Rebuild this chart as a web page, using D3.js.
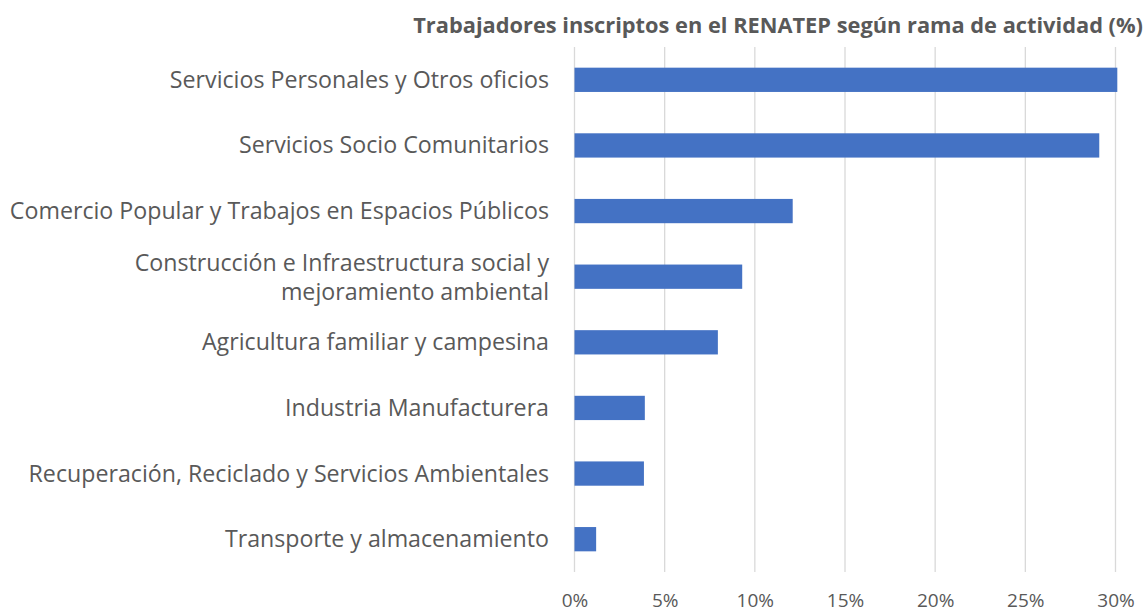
<!DOCTYPE html>
<html><head><meta charset="utf-8">
<script src="https://cdn.jsdelivr.net/npm/d3@7"></script>
<style>body{margin:0;background:#fff;} text{font-family:"Open Sans", sans-serif;}</style>
</head><body>
<svg id="c" width="1146" height="613"></svg>
<script>
const categories = [
  ["Servicios Personales y Otros oficios"],
  ["Servicios Socio Comunitarios"],
  ["Comercio Popular y Trabajos en Espacios Públicos"],
  ["Construcción e Infraestructura social y", "mejoramiento ambiental"],
  ["Agricultura familiar y campesina"],
  ["Industria Manufacturera"],
  ["Recuperación, Reciclado y Servicios Ambientales"],
  ["Transporte y almacenamiento"]
];
const values = [30.1, 29.1, 12.1, 9.3, 7.95, 3.9, 3.85, 1.2];
const ticks = [0, 5, 10, 15, 20, 25, 30];
const title = "Trabajadores inscriptos en el RENATEP según rama de actividad (%)";

const svg = d3.select("#c");
const x = d3.scaleLinear().domain([0, 30]).range([574.5, 1115.5]);
const y = d3.scaleBand().domain(d3.range(categories.length)).range([47, 572]).paddingInner(0.63).paddingOuter(0.315);

svg.append("g").selectAll("line").data(ticks).join("line")
  .attr("x1", d => x(d)).attr("x2", d => x(d))
  .attr("y1", 47).attr("y2", 572)
  .attr("stroke", "#d9d9d9").attr("stroke-width", 1.3);

svg.append("g").selectAll("rect").data(values).join("rect")
  .attr("x", x(0)).attr("y", (d, i) => y(i))
  .attr("width", d => x(d) - x(0)).attr("height", y.bandwidth())
  .attr("fill", "#4472c4");

const lab = svg.append("g").selectAll("text").data(categories).join("text")
  .attr("text-anchor", "end").attr("fill", "#595959").attr("font-size", 23.2)
  .attr("y", (d, i) => y(i) + y.bandwidth() / 2 - (d.length - 1) * 14 + 8);
lab.each(function(d) {
  const t = d3.select(this);
  d.forEach((line, k) => t.append("tspan").attr("x", 549).attr("dy", k === 0 ? 0 : 29).text(line));
});

const ax = svg.append("g").attr("transform", "translate(0,587)")
  .call(d3.axisBottom(x).tickValues(ticks).tickFormat(d => d + "%").tickSize(0));
ax.select(".domain").remove();
ax.selectAll("text").attr("fill", "#595959").attr("font-size", 19)
  .style("font-family", "'Open Sans', sans-serif").attr("dy", "0.88em");

svg.append("text").attr("x", 1143).attr("y", 33).attr("text-anchor", "end")
  .attr("font-weight", "bold").attr("font-size", 21.8).attr("fill", "#595959").text(title);
</script>
</body></html>
